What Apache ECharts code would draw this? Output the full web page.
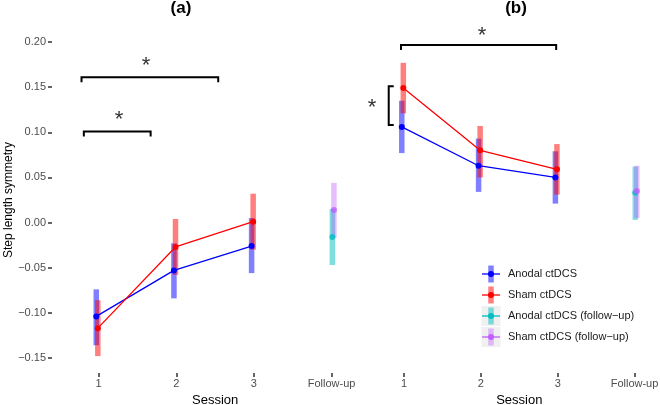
<!DOCTYPE html>
<html>
<head>
<meta charset="utf-8">
<script src="https://cdn.jsdelivr.net/npm/echarts@6/dist/echarts.min.js"></script>
<style>
html,body{margin:0;padding:0;background:#fff;}
#chart{width:660px;height:405px;}
</style>
</head>
<body>
<div id="chart"></div>
<script>
// ---------- data ----------
const sessions = [1, 2, 3];
const followUpX = 4;
const xTickValues = [1, 2, 3, 4];
const xTickLabels = ['1', '2', '3', 'Follow-up'];
const yTickValues = [-0.15, -0.10, -0.05, 0.00, 0.05, 0.10, 0.15, 0.20];

// Panel (a)
const anodalMeanA = [-0.104, -0.053, -0.026];
const anodalLowA  = [-0.136, -0.084, -0.056];
const anodalHighA = [-0.074, -0.023, 0.005];
const shamMeanA   = [-0.117, -0.027, 0.001];
const shamLowA    = [-0.148, -0.058, -0.030];
const shamHighA   = [-0.086, 0.004, 0.032];
const anodalFuA   = [-0.016, -0.047, 0.015];   // mean, low, high
const shamFuA     = [0.014, -0.017, 0.044];

// Panel (b)
const anodalMeanB = [0.106, 0.063, 0.050];
const anodalLowB  = [0.077, 0.034, 0.021];
const anodalHighB = [0.135, 0.093, 0.079];
const shamMeanB   = [0.149, 0.080, 0.059];
const shamLowB    = [0.121, 0.050, 0.031];
const shamHighB   = [0.177, 0.107, 0.087];
const anodalFuB   = [0.033, 0.003, 0.062];
const shamFuB     = [0.035, 0.005, 0.063];

// significance annotations (data space)
const hBracketsA = [[0.78, 2.54, 0.161], [0.81, 1.67, 0.101]]; // x1, x2, y
const starsA = [[1.61, 0.179], [1.263, 0.119]];
const hBracketsB = [[0.96, 2.98, 0.1967]];
const vBracketsB = [[0.80, 0.151, 0.108]]; // x, y1, y2
const starsB = [[2.015, 0.2122], [0.582, 0.132]];

const legendLabels = ['Anodal ctDCS', 'Sham ctDCS', 'Anodal ctDCS (follow\u2212up)', 'Sham ctDCS (follow\u2212up)'];

// ---------- styles ----------
const FONT = 'Liberation Sans, Arial, sans-serif';
const COLORS = {
  anodal: '#0000ff', anodalBar: 'rgba(0,0,255,0.5)',
  sham: '#ff0000', shamBar: 'rgba(255,0,0,0.5)',
  anodalFu: '#00bfbf', anodalFuBar: 'rgba(0,191,191,0.5)',
  shamFu: '#bf5fff', shamFuBar: 'rgba(191,95,255,0.4)'
};
const DODGE = {anodal: -0.03, sham: -0.01, anodalFu: 0.01, shamFu: 0.03};
const BAR_W = 5.5;
const Y_MIN = -0.1667, Y_MAX = 0.2167;

function barData(means, lows, highs, xs) {
  return means.map((m, i) => [xs[i], lows[i], highs[i]]);
}
function lineData(means, xs, off) {
  return means.map((m, i) => [xs[i] + off, m]);
}
function barSeries(grid, data, off, color, z) {
  return {
    type: 'custom', xAxisIndex: grid, yAxisIndex: grid, z: z, silent: true,
    data: data,
    renderItem: function (params, api) {
      const x = api.value(0) + off;
      const lo = api.coord([x, api.value(1)]);
      const hi = api.coord([x, api.value(2)]);
      return {type: 'rect', shape: {x: lo[0] - BAR_W / 2, y: hi[1], width: BAR_W, height: lo[1] - hi[1]},
              style: {fill: color}};
    }
  };
}
function meanSeries(grid, data, color, z, withLine) {
  return {
    type: withLine ? 'line' : 'scatter', xAxisIndex: grid, yAxisIndex: grid, z: z, silent: true,
    data: data, symbol: 'circle', symbolSize: 6,
    itemStyle: {color: color},
    lineStyle: {color: color, width: 1.3}
  };
}
function hBracketSeries(grid, data) {
  return {
    type: 'custom', xAxisIndex: grid, yAxisIndex: grid, z: 20, silent: true, data: data,
    renderItem: function (params, api) {
      const a = api.coord([api.value(0), api.value(2)]);
      const b = api.coord([api.value(1), api.value(2)]);
      return {type: 'polyline', shape: {points: [[a[0], a[1] + 5], a, b, [b[0], b[1] + 5]]},
              style: {stroke: '#000', lineWidth: 2, fill: null}};
    }
  };
}
function vBracketSeries(grid, data) {
  return {
    type: 'custom', xAxisIndex: grid, yAxisIndex: grid, z: 20, silent: true, data: data,
    renderItem: function (params, api) {
      const a = api.coord([api.value(0), api.value(1)]);
      const b = api.coord([api.value(0), api.value(2)]);
      return {type: 'polyline', shape: {points: [[a[0] + 5, a[1]], a, b, [b[0] + 5, b[1]]]},
              style: {stroke: '#000', lineWidth: 2, fill: null}};
    }
  };
}
const STAR_SIZE = 22;
function starSeries(grid, data) {
  return {
    type: 'custom', xAxisIndex: grid, yAxisIndex: grid, z: 20, silent: true, data: data,
    renderItem: function (params, api) {
      const p = api.coord([api.value(0), api.value(1)]);
      return {type: 'text', x: p[0], y: p[1] + 0.22 * STAR_SIZE,
              style: {text: '*', font: STAR_SIZE + 'px ' + FONT, fill: '#333', textAlign: 'center', textVerticalAlign: 'middle'}};
    }
  };
}

function xAxis(grid) {
  return {
    type: 'value', gridIndex: grid, min: 0.4, max: 4.6,
    splitLine: {show: false}, axisLine: {show: false, onZero: false},
    axisTick: {show: true, length: 4, lineStyle: {color: '#333', width: 1.5}, customValues: xTickValues},
    axisLabel: {show: true, margin: 5, color: '#4d4d4d', fontSize: 11, fontFamily: FONT, customValues: xTickValues,
                formatter: v => xTickLabels[xTickValues.indexOf(Math.round(v))] || ''},
    name: 'Session', nameLocation: 'middle', nameGap: 19,
    nameTextStyle: {color: '#000', fontSize: 13, fontFamily: FONT}
  };
}
function yAxis(grid, show) {
  return {
    type: 'value', gridIndex: grid, min: Y_MIN, max: Y_MAX,
    splitLine: {show: false}, axisLine: {show: false, onZero: false},
    axisTick: {show: show, length: 4, lineStyle: {color: '#333', width: 1.5}, customValues: yTickValues},
    axisLabel: {show: show, margin: 6, color: '#4d4d4d', fontSize: 11, fontFamily: FONT, customValues: yTickValues,
                formatter: v => v.toFixed(2).replace('-', '\u2212')},
    name: show ? 'Step length symmetry' : '', nameLocation: 'middle', nameGap: 36,
    nameTextStyle: {color: '#000', fontSize: 12, fontFamily: FONT}
  };
}

const series = [
  // panel a
  barSeries(0, barData(anodalMeanA, anodalLowA, anodalHighA, sessions), DODGE.anodal, COLORS.anodalBar, 1),
  barSeries(0, barData(shamMeanA, shamLowA, shamHighA, sessions), DODGE.sham, COLORS.shamBar, 2),
  barSeries(0, [[followUpX, anodalFuA[1], anodalFuA[2]]], DODGE.anodalFu, COLORS.anodalFuBar, 1),
  barSeries(0, [[followUpX, shamFuA[1], shamFuA[2]]], DODGE.shamFu, COLORS.shamFuBar, 2),
  meanSeries(0, lineData(anodalMeanA, sessions, DODGE.anodal), COLORS.anodal, 5, true),
  meanSeries(0, lineData(shamMeanA, sessions, DODGE.sham), COLORS.sham, 6, true),
  meanSeries(0, [[followUpX + DODGE.anodalFu, anodalFuA[0]]], COLORS.anodalFu, 5, false),
  meanSeries(0, [[followUpX + DODGE.shamFu, shamFuA[0]]], COLORS.shamFu, 6, false),
  hBracketSeries(0, hBracketsA),
  starSeries(0, starsA),
  // panel b
  barSeries(1, barData(anodalMeanB, anodalLowB, anodalHighB, sessions), DODGE.anodal, COLORS.anodalBar, 1),
  barSeries(1, barData(shamMeanB, shamLowB, shamHighB, sessions), DODGE.sham, COLORS.shamBar, 2),
  barSeries(1, [[followUpX, anodalFuB[1], anodalFuB[2]]], DODGE.anodalFu, COLORS.anodalFuBar, 1),
  barSeries(1, [[followUpX, shamFuB[1], shamFuB[2]]], DODGE.shamFu, COLORS.shamFuBar, 2),
  meanSeries(1, lineData(anodalMeanB, sessions, DODGE.anodal), COLORS.anodal, 5, true),
  meanSeries(1, lineData(shamMeanB, sessions, DODGE.sham), COLORS.sham, 6, true),
  meanSeries(1, [[followUpX + DODGE.anodalFu, anodalFuB[0]]], COLORS.anodalFu, 5, false),
  meanSeries(1, [[followUpX + DODGE.shamFu, shamFuB[0]]], COLORS.shamFu, 6, false),
  hBracketSeries(1, hBracketsB),
  vBracketSeries(1, vBracketsB),
  starSeries(1, starsB)
];

// legend drawn as graphic (composite keys)
const legendItems = [
  {label: legendLabels[0], line: COLORS.anodal, bar: COLORS.anodalBar, bg: null},
  {label: legendLabels[1], line: COLORS.sham, bar: COLORS.shamBar, bg: null},
  {label: legendLabels[2], line: COLORS.anodalFu, bar: COLORS.anodalFuBar, bg: '#f0f0f0'},
  {label: legendLabels[3], line: COLORS.shamFu, bar: COLORS.shamFuBar, bg: '#f0f0f0'}
];
const LEG_X = 491, LEG_Y0 = 274, LEG_DY = 21;
const graphic = [];
legendItems.forEach((it, i) => {
  const cy = LEG_Y0 + i * LEG_DY;
  if (it.bg) graphic.push({type: 'rect', shape: {x: LEG_X - 9.5, y: cy - 10, width: 19, height: 20}, style: {fill: it.bg}});
  graphic.push({type: 'rect', shape: {x: LEG_X - 2.75, y: cy - 8.5, width: 5.5, height: 17}, style: {fill: it.bar}});
  graphic.push({type: 'line', shape: {x1: LEG_X - 9, y1: cy, x2: LEG_X + 9, y2: cy}, style: {stroke: it.line, lineWidth: 1.3}});
  graphic.push({type: 'circle', shape: {cx: LEG_X, cy: cy, r: 3}, style: {fill: it.line}});
  graphic.push({type: 'text', x: 508, y: cy, style: {text: it.label, font: '11px ' + FONT, fill: '#1a1a1a', textVerticalAlign: 'middle'}});
});

const option = {
  animation: false,
  backgroundColor: '#fff',
  title: [
    {text: '(a)', left: 181, top: 0, padding: 0, textAlign: 'center', textStyle: {fontSize: 17, fontWeight: 'bold', color: '#000', fontFamily: FONT}},
    {text: '(b)', left: 516, top: 0, padding: 0, textAlign: 'center', textStyle: {fontSize: 17, fontWeight: 'bold', color: '#000', fontFamily: FONT}}
  ],
  grid: [
    {left: 52, top: 27, width: 326.2, height: 346, outerBoundsMode: 'none', containLabel: false},
    {left: 358, top: 27, width: 322.6, height: 346, outerBoundsMode: 'none', containLabel: false}
  ],
  xAxis: [xAxis(0), xAxis(1)],
  yAxis: [yAxis(0, true), yAxis(1, false)],
  series: series,
  graphic: graphic
};

const chart = echarts.init(document.getElementById('chart'), null, {renderer: 'canvas'});
chart.setOption(option);
</script>
</body>
</html>
